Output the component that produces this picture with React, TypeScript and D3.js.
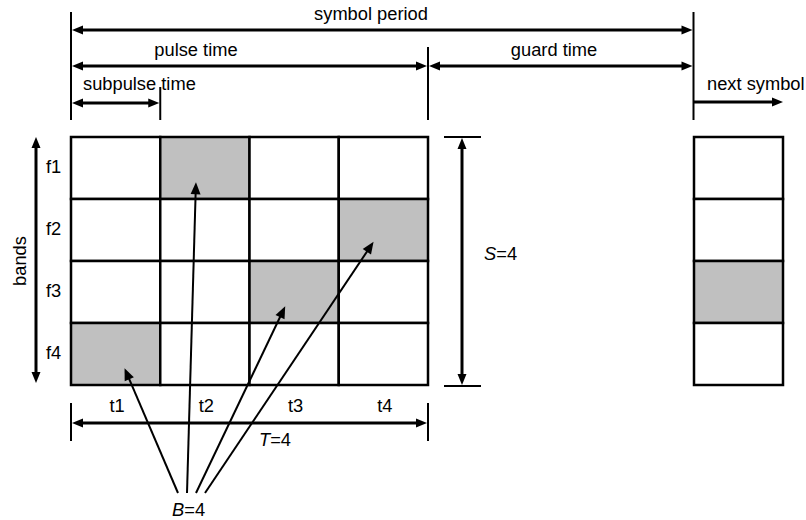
import React from "react";
import * as d3 from "d3";

const times = ["t1", "t2", "t3", "t4"];
const bands = ["f1", "f2", "f3", "f4"];
// band index occupied in each time slot
const hops = [3, 0, 2, 1];
const nextSymbolHop = 2;
const topLabels = ["symbol period", "pulse time", "guard time", "subpulse time", "next symbol"];
const S_LABEL = "S";
const T_LABEL = "T";
const B_LABEL = "B";
const countValue = 4;

const W = 806;
const H = 520;
const FONT = "Liberation Sans, Arial, sans-serif";
const GRAY = "#c0c0c0";

function head(x: number, y: number, angle: number, len = 11, hw = 4.5) {
  const c = Math.cos(angle), s = Math.sin(angle);
  const bx = x - c * len, by = y - s * len;
  const p1 = [bx - s * hw, by + c * hw];
  const p2 = [bx + s * hw, by - c * hw];
  return `M${x},${y}L${p1[0]},${p1[1]}L${p2[0]},${p2[1]}Z`;
}

function Arrow({ x1, y1, x2, y2, start = true, end = true, sw = 3, len = 11, hw = 4.5 }: any) {
  const a = Math.atan2(y2 - y1, x2 - x1);
  const c = Math.cos(a), s = Math.sin(a);
  const lx1 = start ? x1 + c * (len - 2) : x1;
  const ly1 = start ? y1 + s * (len - 2) : y1;
  const lx2 = end ? x2 - c * (len - 2) : x2;
  const ly2 = end ? y2 - s * (len - 2) : y2;
  return (
    <g>
      <line x1={lx1} y1={ly1} x2={lx2} y2={ly2} stroke="#000" strokeWidth={sw} />
      {end && <path d={head(x2, y2, a, len, hw)} fill="#000" />}
      {start && <path d={head(x1, y1, a + Math.PI, len, hw)} fill="#000" />}
    </g>
  );
}

export default function App() {
  const x = d3.scaleBand<string>().domain(times).range([71, 428]);
  const y = d3.scaleBand<string>().domain(bands).range([137, 385]);
  const nx = d3.scaleBand<string>().domain(["next"]).range([694, 783]);
  const x0 = 71, x1 = 428, xs = x(times[1])!, xe = 693.5;
  const yTop = y.range()[0], yBot = y.range()[1];

  // arrow tips inside the shaded cells
  const tipFx = [0.6, 0.4, 0.4, 0.39];
  const tipFy = [0.73, 0.73, 0.73, 0.69];
  const bStart = d3.scaleLinear().domain([0, 3]).range([178, 205]);

  const fs = 18.3;
  return (
    <svg width={W} height={H} style={{ position: "absolute", left: 0, top: 0, background: "#fff" }} fontFamily={FONT}>
      <rect width={W} height={H} fill="#fff" />
      {/* top vertical guide lines */}
      <line x1={x0} y1={12} x2={x0} y2={120} stroke="#000" strokeWidth={2} />
      <line x1={xe} y1={12} x2={xe} y2={120} stroke="#000" strokeWidth={2} />
      <line x1={x1} y1={47} x2={x1} y2={120} stroke="#000" strokeWidth={2} />
      <line x1={xs} y1={87} x2={xs} y2={120} stroke="#000" strokeWidth={2} />

      <Arrow x1={x0 + 1} y1={30} x2={xe - 1} y2={30} />
      <text x={371} y={20} fontSize={fs} textAnchor="middle">{topLabels[0]}</text>

      <Arrow x1={x0 + 1} y1={66} x2={x1 - 1} y2={66} />
      <text x={196} y={56} fontSize={fs} textAnchor="middle">{topLabels[1]}</text>
      <Arrow x1={x1 + 1} y1={66} x2={xe - 1} y2={66} />
      <text x={554} y={56} fontSize={fs} textAnchor="middle">{topLabels[2]}</text>

      <Arrow x1={x0 + 1} y1={103} x2={xs - 1} y2={103} />
      <text x={83} y={90} fontSize={fs}>{topLabels[3]}</text>

      <Arrow x1={xe} y1={102} x2={783} y2={102} start={false} />
      <text x={707} y={90} fontSize={fs}>{topLabels[4]}</text>

      {/* main grid */}
      {times.map((t, i) =>
        bands.map((b, j) => (
          <rect key={t + b} x={x(t)} y={y(b)} width={x.bandwidth()} height={y.bandwidth()}
            fill={hops[i] === j ? GRAY : "#fff"} stroke="#000" strokeWidth={2.5} />
        ))
      )}
      {/* next symbol column */}
      {bands.map((b, j) => (
        <rect key={"n" + b} x={nx("next")} y={y(b)} width={nx.bandwidth()} height={y.bandwidth()}
          fill={nextSymbolHop === j ? GRAY : "#fff"} stroke="#000" strokeWidth={2.5} />
      ))}

      {/* band labels */}
      {bands.map((b) => (
        <text key={b} x={46} y={y(b)! + y.bandwidth() / 2 + 5} fontSize={fs}>{b}</text>
      ))}
      <Arrow x1={36} y1={yTop} x2={36} y2={yBot - 2} />
      <text transform={`translate(26,${(yTop + yBot) / 2}) rotate(-90)`} fontSize={fs} textAnchor="middle">bands</text>

      {/* S arrow */}
      <line x1={444} y1={yTop} x2={481} y2={yTop} stroke="#000" strokeWidth={2} />
      <line x1={444} y1={yBot + 1} x2={481} y2={yBot + 1} stroke="#000" strokeWidth={2} />
      <Arrow x1={462} y1={yTop + 1} x2={462} y2={yBot} />
      <text x={484} y={260} fontSize={fs}>
        <tspan fontStyle="italic">{S_LABEL}</tspan>={countValue}
      </text>

      {/* time labels */}
      {times.map((t) => (
        <text key={t} x={x(t)! + x.bandwidth() / 2 + 1.5} y={412} fontSize={fs} textAnchor="middle">{t}</text>
      ))}
      <line x1={x0} y1={403} x2={x0} y2={441} stroke="#000" strokeWidth={2} />
      <line x1={x1} y1={403} x2={x1} y2={441} stroke="#000" strokeWidth={2} />
      <Arrow x1={x0 + 1} y1={423} x2={x1 - 1} y2={423} />
      <text x={259} y={446} fontSize={fs}>
        <tspan fontStyle="italic">{T_LABEL}</tspan>={countValue}
      </text>

      {/* B arrows */}
      {times.map((t, i) => {
        const tx = x(t)! + tipFx[i] * x.bandwidth();
        const ty = y(bands[hops[i]])! + tipFy[i] * y.bandwidth();
        return <Arrow key={"b" + t} x1={bStart(i)} y1={493} x2={tx} y2={ty} start={false} sw={2} len={12} hw={5} />;
      })}
      <text x={172} y={516} fontSize={fs}>
        <tspan fontStyle="italic">{B_LABEL}</tspan>={countValue}
      </text>
    </svg>
  );
}
